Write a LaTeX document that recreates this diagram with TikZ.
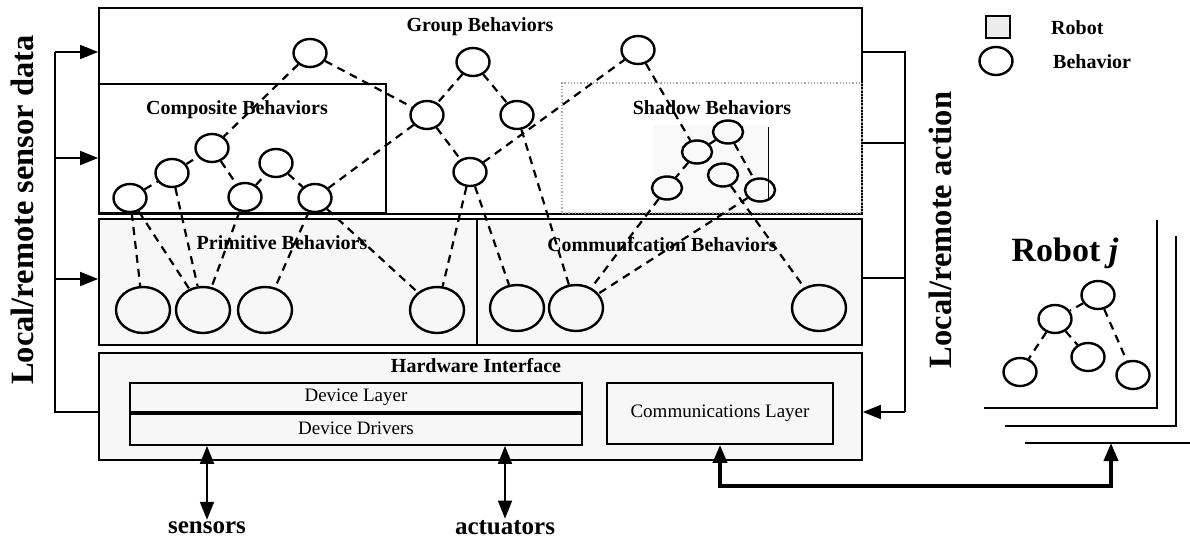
\documentclass[tikz,border=0pt]{standalone}
\usepackage{fontspec}
\setmainfont{Liberation Serif}
\usetikzlibrary{arrows.meta,shapes.geometric}
\tikzset{
  box/.style={draw,line width=1.8pt,inner sep=0pt},
  shbox/.style={draw=gray!70,dotted,line width=1.2pt,inner sep=0pt},
  behs/.style={draw,ellipse,line width=2.4pt,inner sep=0pt,minimum width=30pt,minimum height=23pt},
  behm/.style={draw,ellipse,line width=2.4pt,inner sep=0pt,minimum width=33pt,minimum height=28pt},
  behl/.style={draw,ellipse,line width=2.4pt,inner sep=0pt,minimum width=54pt,minimum height=46pt},
  link/.style={line width=2.2pt,dash pattern=on 8pt off 6pt},
  title/.style={font=\fontsize{20}{22}\selectfont\bfseries,inner sep=1pt},
  plain/.style={font=\fontsize{19}{21}\selectfont},
  side/.style={font=\fontsize{32.5}{34}\selectfont\bfseries,inner sep=0pt},
  io/.style={font=\fontsize{25}{27}\selectfont\bfseries,inner sep=2pt},
  feed/.style={line width=1.8pt},
  tip/.style={-{Triangle[length=18pt,width=14pt]}},
  tips/.style={{Triangle[length=18pt,width=14pt]}-{Triangle[length=18pt,width=14pt]}}
}
\begin{document}
\begin{tikzpicture}[x=1pt,y=-1pt]
\useasboundingbox (0,0) rectangle (1190,543);
\node[box,minimum width=763pt,minimum height=206pt] (group) at (480.5,111) {};
\node[box,minimum width=287pt,minimum height=129pt] (comp) at (242.5,148.5) {};
\fill[gray!5] (653,125) rectangle (768,213);
\node[shbox,minimum width=300pt,minimum height=130pt] (shadow) at (712,148) {};
\draw[line width=1pt] (768,127) -- (768,200);
\node[box,fill=gray!6,minimum width=378pt,minimum height=126pt] (prim) at (288,282) {};
\node[box,fill=gray!6,minimum width=385pt,minimum height=126pt] (comm) at (669.5,282) {};
\node[box,fill=gray!6,minimum width=763pt,minimum height=107pt] (hw) at (480.5,406.5) {};
\node[box,plain,fill=gray!6,minimum width=452pt,minimum height=29pt] (dlayer) at (356,397.5) {Device Layer};
\node[box,plain,fill=gray!6,minimum width=452pt,minimum height=33pt] (ddrv) at (356,428.5) {Device Drivers};
\draw[line width=4pt] (dlayer.south west) -- (dlayer.south east);
\node[box,plain,fill=gray!6,minimum width=226pt,minimum height=61pt] (clayer) at (720,413.5) {Communications Layer};
\node[title] (grouplbl) at (480,27) {Group Behaviors};
\node[title] (complbl) at (237,110) {Composite Behaviors};
\node[title] (shadowlbl) at (712,108) {Shadow Behaviors};
\node[title] (primlbl) at (282,243) {Primitive Behaviors};
\node[title] (commlbl) at (662,245) {Communfcation Behaviors};
\node[title] (hwlbl) at (476,366) {Hardware Interface};
\node[behm] (g1) at (310,53) {};
\node[behm] (g2) at (473,62) {};
\node[behm] (g3) at (638,50) {};
\node[behm] (g4) at (427,115) {};
\node[behm] (g5) at (517,115) {};
\node[behm] (g6) at (470,172) {};
\node[behm] (c1) at (130,198) {};
\node[behm] (c2) at (172,173) {};
\node[behm] (c3) at (212,148) {};
\node[behm] (c4) at (245,197) {};
\node[behm] (c5) at (276,163) {};
\node[behm] (c6) at (315,198) {};
\node[behs] (s1) at (728,132) {};
\node[behs] (s2) at (697,152) {};
\node[behs] (s3) at (723,175) {};
\node[behs] (s4) at (667,188) {};
\node[behs] (s5) at (760,190) {};
\node[behl] (p1) at (143,310) {};
\node[behl] (p2) at (203,310) {};
\node[behl] (p3) at (265,310) {};
\node[behl] (p4) at (437,310) {};
\node[behl] (m1) at (517,308) {};
\node[behl] (m2) at (576,308) {};
\node[behl] (m3) at (819,308) {};
\draw[link] (g1) -- (g4);
\draw[link] (g2) -- (g4);
\draw[link] (g2) -- (g5);
\draw[link] (g4) -- (g6);
\draw[link] (g6) -- (g3);
\draw[link] (g1) -- (c3);
\draw[link] (c1) -- (c2);
\draw[link] (c2) -- (c3);
\draw[link] (c3) -- (c4);
\draw[link] (c4) -- (c5);
\draw[link] (c5) -- (c6);
\draw[link] (c6) -- (g4);
\draw[link] (g3) -- (s2);
\draw[link] (s1) -- (s2);
\draw[link] (s2) -- (s4);
\draw[link] (s1) -- (s5);
\draw[link] (c1) -- (p1);
\draw[link] (c1) -- (p2);
\draw[link] (c2) -- (p2);
\draw[link] (c4) -- (p2);
\draw[link] (c6) -- (p3);
\draw[link] (c6) -- (p4);
\draw[link] (g6) -- (p4);
\draw[link] (g6) -- (m1);
\draw[link] (g5) -- (m2);
\draw[link] (s4) -- (m2);
\draw[link] (s5) -- (m2);
\draw[link] (s3) -- (m3);
\coordinate (sd1) at (55,52);
\coordinate (sd2) at (55,158);
\coordinate (sd3) at (55,279);
\coordinate (sd4) at (55,412);
\draw[feed] (sd1) -- (sd4) -- (sd4 -| hw.west);
\draw[feed,tip] (sd1) -- (sd1 -| group.west);
\draw[feed,tip] (sd2) -- (sd2 -| comp.west);
\draw[feed,tip] (sd3) -- (sd3 -| prim.west);
\coordinate (ra1) at (905,52);
\coordinate (ra2) at (905,143);
\coordinate (ra3) at (905,278);
\coordinate (ra4) at (905,412);
\draw[feed] (ra1 -| group.east) -- (ra1) -- (ra4);
\draw[feed] (ra2 -| shadow.east) -- (ra2);
\draw[feed] (ra3 -| comm.east) -- (ra3);
\draw[feed,tip] (ra4) -- (ra4 -| hw.east);
\node[side,rotate=90] (sdata) at (22,210) {Local/remote sensor data};
\node[side,rotate=90] (ract) at (940,230) {Local/remote action};
\node[io] (sens) at (207,528) {sensors};
\node[io] (act) at (505,528) {actuators};
\draw[feed,tips] (sens.north) -- (sens.north |- ddrv.south);
\draw[feed,tips] (act.north) -- (act.north |- ddrv.south);
\draw[line width=2.2pt] (984,408) -- (1157,408) -- (1157,220);
\draw[line width=2.2pt] (1005,426) -- (1176,426) -- (1176,236);
\draw[line width=2.2pt] (1025,443) -- (1190,443);
\coordinate (cbend) at (720,486);
\coordinate (rbend) at (1111,486);
\coordinate (stk) at (1111,443);
\draw[line width=3.8pt,tips] (clayer.south) -- (cbend) -- (rbend) -- (stk);
\node[font=\fontsize{34}{36}\selectfont\bfseries] (robotj) at (1065,253) {Robot \textit{j}};
\node[behm] (r1) at (1098,295) {};
\node[behm] (r2) at (1055,319) {};
\node[behm] (r3) at (1020,372) {};
\node[behm] (r4) at (1088,357) {};
\node[behm] (r5) at (1133,375) {};
\draw[link] (r1) -- (r2);
\draw[link] (r2) -- (r3);
\draw[link] (r2) -- (r4);
\draw[link] (r1) -- (r5);
\node[box,fill=gray!15,minimum width=24pt,minimum height=22pt] (legrobot) at (998,27) {};
\node[title,anchor=west] (legrobotlbl) at (1050,28) {Robot};
\node[behm] (legbeh) at (996,61) {};
\node[title,anchor=west] (legbehlbl) at (1052,62) {Behavior};
\end{tikzpicture}
\end{document}
